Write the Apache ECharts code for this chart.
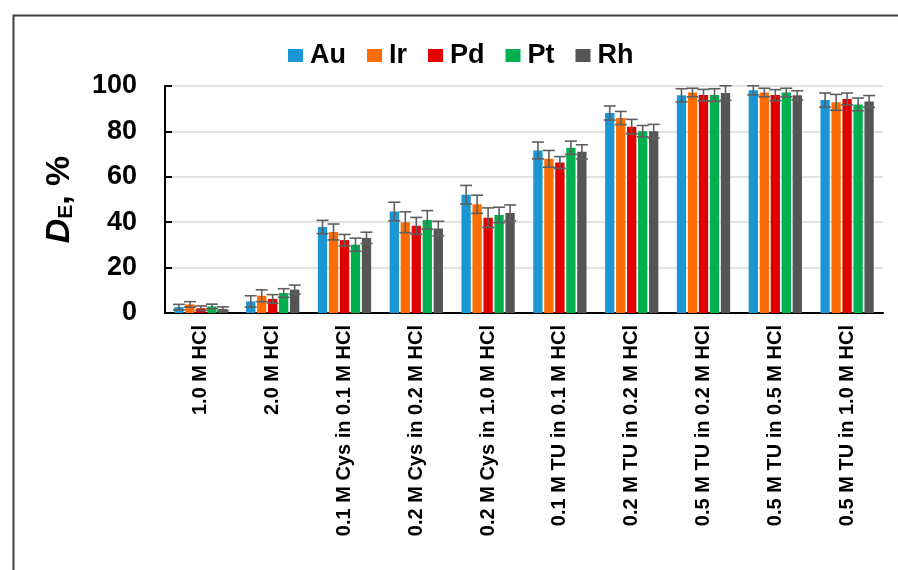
<!DOCTYPE html>
<html>
<head>
<meta charset="utf-8">
<script src="https://cdn.jsdelivr.net/npm/echarts@6/dist/echarts.min.js"></script>
<style>
html,body{margin:0;padding:0;background:#fff;}
#c{width:898px;height:570px;}
</style>
</head>
<body>
<div id="c"></div>
<script>
const categories = ['1.0 M HCl','2.0 M HCl','0.1 M Cys in 0.1 M HCl','0.2 M Cys in 0.2 M HCl','0.2 M Cys in 1.0 M HCl','0.1 M TU in 0.1 M HCl','0.2 M TU in 0.2 M HCl','0.5 M TU in 0.2 M HCl','0.5 M TU in 0.5 M HCl','0.5 M TU in 1.0 M HCl'];
const metals = ['Au','Ir','Pd','Pt','Rh'];
const Au    = [2.6, 5.1, 37.9, 44.7, 52.1, 71.6, 88.1, 95.9, 98.1, 93.8];
const AuErr = [1.2, 2.5, 2.9, 4.1, 4.1, 3.7, 3.1, 2.9, 2.0, 3.1];
const Ir    = [3.8, 7.6, 35.7, 40.0, 47.9, 67.9, 85.9, 97.1, 97.1, 92.8];
const IrErr = [1.2, 2.6, 3.5, 4.6, 4.0, 3.7, 2.9, 1.9, 1.9, 3.5];
const Pd    = [2.1, 6.2, 32.1, 38.4, 42.0, 66.3, 82.1, 96.0, 96.0, 94.3];
const PdErr = [1.0, 1.9, 2.5, 3.7, 4.3, 2.6, 3.2, 2.5, 2.4, 2.6];
const Pt    = [2.9, 8.8, 30.1, 41.0, 43.2, 72.8, 80.1, 96.0, 97.1, 91.9];
const PtErr = [1.0, 1.9, 2.9, 4.1, 3.4, 2.9, 2.5, 2.8, 1.9, 2.8];
const Rh    = [1.8, 10.3, 33.1, 37.2, 44.1, 71.0, 80.1, 96.9, 95.9, 93.2];
const RhErr = [0.9, 2.0, 2.5, 3.2, 3.5, 3.1, 3.0, 3.2, 2.0, 2.6];
const yTicks = [0, 20, 40, 60, 80, 100];

const values = [Au, Ir, Pd, Pt, Rh];
const errors = [AuErr, IrErr, PdErr, PtErr, RhErr];
const colors = ['#1a96d4', '#ff6d00', '#e00000', '#00b04f', '#555555'];
const CAT_GAP = 0.258, BAR_GAP = 0.18;
const FONT = 'Liberation Sans, Arial, sans-serif';

const series = [];
metals.forEach((m, i) => {
  series.push({
    name: m, type: 'bar', data: values[i],
    barCategoryGap: (CAT_GAP*100)+'%', barGap: (BAR_GAP*100)+'%',
    itemStyle: {color: colors[i]}, z: 2
  });
});
metals.forEach((m, i) => {
  series.push({
    name: m + ' err', type: 'custom', z: 5, clip: false,
    data: values[i].map((v, k) => [k, v, errors[i][k]]),
    renderItem: function (params, api) {
      const xi = api.value(0), v = api.value(1), e = api.value(2);
      const band = api.size([1, 0])[0];
      const n = metals.length;
      const used = band * (1 - CAT_GAP);
      const bw = used / (n + (n - 1) * BAR_GAP);
      const center = api.coord([xi, 0])[0];
      const x = center - used / 2 + i * bw * (1 + BAR_GAP) + bw / 2;
      const top = api.coord([xi, v + e])[1];
      const bot = api.coord([xi, v - e])[1];
      const cw = 6;
      const st = {stroke: '#5f5f5f', lineWidth: 1.6};
      return {type: 'group', children: [
        {type: 'line', shape: {x1: x, y1: top, x2: x, y2: bot}, style: st},
        {type: 'line', shape: {x1: x - cw, y1: top, x2: x + cw, y2: top}, style: st},
        {type: 'line', shape: {x1: x - cw, y1: bot, x2: x + cw, y2: bot}, style: st}
      ]};
    }
  });
});

const chart = echarts.init(document.getElementById('c'));
chart.setOption({
  animation: false,
  backgroundColor: '#fff',
  graphic: [{
    type: 'rect', left: 11, top: 13, z: 100, silent: true,
    shape: {x: 0, y: 0, width: 900, height: 600},
    style: {fill: 'none', stroke: '#404040', lineWidth: 2}
  }],
  legend: {
    data: metals, left: 283, top: 37,
    itemWidth: 15, itemHeight: 13, itemGap: 21,
    textStyle: {fontFamily: FONT, fontSize: 27, fontWeight: 'bold', color: '#000', padding: [0, 0, 0, 2]},
    icon: 'rect'
  },
  grid: {left: 165, right: 15, top: 86, bottom: 257, containLabel: false},
  xAxis: {
    type: 'category', data: categories,
    axisLine: {lineStyle: {color: '#000', width: 2}},
    axisTick: {show: false},
    axisLabel: {interval: 0, rotate: 90, margin: 12, fontFamily: FONT, fontSize: 20, fontWeight: 'bold', color: '#000'}
  },
  yAxis: {
    type: 'value', min: yTicks[0], max: yTicks[yTicks.length - 1], interval: 20,
    name: '{d|D}{e|E}{t|, %}',
    nameLocation: 'middle', nameRotate: 90, nameGap: 88,
    nameTextStyle: {
      rich: {
        d: {fontFamily: FONT, fontSize: 34, fontWeight: 'bold', fontStyle: 'italic', color: '#000'},
        e: {fontFamily: FONT, fontSize: 21, fontWeight: 'bold', color: '#000', verticalAlign: 'bottom', padding: [14, 0, 0, 0]},
        t: {fontFamily: FONT, fontSize: 34, fontWeight: 'bold', color: '#000'}
      }
    },
    axisLine: {show: true, lineStyle: {color: '#000', width: 2}},
    axisTick: {show: true, inside: true, length: 7, lineStyle: {color: '#000', width: 2}},
    axisLabel: {margin: 28, fontFamily: FONT, fontSize: 27, fontWeight: 'bold', color: '#000'},
    splitLine: {show: true, lineStyle: {color: '#d9d9d9', width: 1.5}}
  },
  series: series
});
</script>
</body>
</html>
